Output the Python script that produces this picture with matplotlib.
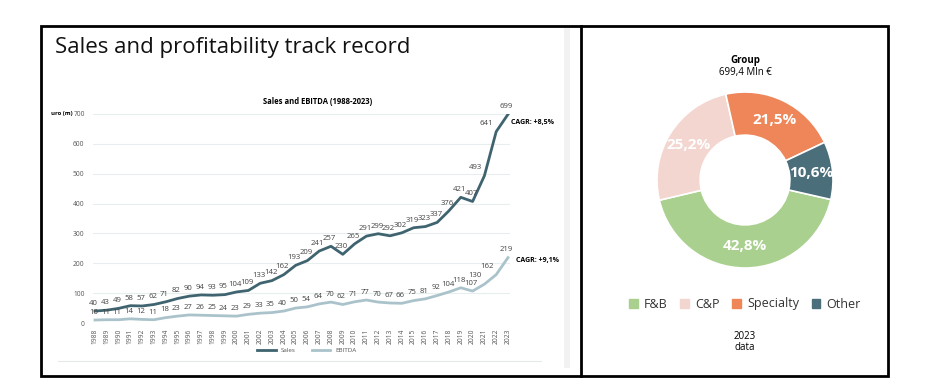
import numpy as np
import matplotlib
matplotlib.use('Agg')
import matplotlib.pyplot as plt
from matplotlib.lines import Line2D
from matplotlib.patches import Rectangle, Patch

years = list(range(1988, 2024))
sales = [40, 43, 49, 58, 57, 62, 71, 82, 90, 94, 93, 95, 104, 109, 133, 142, 162, 193,
         209, 241, 257, 230, 265, 291, 299, 292, 302, 319, 323, 337, 376, 421, 407, 493,
         641, 699]
ebitda = [10, 11, 11, 14, 12, 11, 18, 23, 27, 26, 25, 24, 23, 29, 33, 35, 40, 50,
          54, 64, 70, 62, 71, 77, 70, 67, 66, 75, 81, 92, 104, 118, 107, 130, 162, 219]

segments = ['F&B', 'C&P', 'Specialty', 'Other']
shares = [42.8, 25.2, 21.5, 10.6]
share_labels = ['42,8%', '25,2%', '21,5%', '10,6%']
seg_colors = ['#A9D08E', '#F3D6CF', '#EE8659', '#4B6E7B']

sales_color = '#3F6470'
ebitda_color = '#AAC3CB'
W, H = 926, 392

plt.rcParams['font.family'] = ['Open Sans', 'DejaVu Sans']
fig = plt.figure(figsize=(W / 100, H / 100), dpi=100)


def fx(x):
    return x / W


def fy(y):
    return 1 - y / H


# frame and divider
fig.add_artist(Rectangle((fx(564), fy(368)), fx(6), fy(27) - fy(368),
                         transform=fig.transFigure, color='#F2F2F2', lw=0))
fig.add_artist(Rectangle((fx(41), fy(376)), fx(888 - 41), fy(26) - fy(376),
                         transform=fig.transFigure, fill=False, ec='black', lw=2))
fig.add_artist(Line2D([fx(581), fx(581)], [fy(26), fy(376)],
                      transform=fig.transFigure, color='black', lw=2))
fig.add_artist(Line2D([fx(58), fx(541)], [fy(361), fy(361)],
                      transform=fig.transFigure, color='#E6E9EA', lw=0.8))

fig.text(fx(55), fy(47), 'Sales and profitability track record', fontsize=16,
         va='center', ha='left', color='#111111')

# line chart
ax = fig.add_axes([fx(93), fy(323), fx(510 - 93), fy(114) - fy(323)])
ax.plot(years, sales, color=sales_color, lw=2, label='Sales', zorder=3)
ax.plot(years, ebitda, color=ebitda_color, lw=2, label='EBITDA', zorder=3)
ax.set_xlim(1987.83, 2023.17)
ax.set_ylim(0, 700)
ax.set_yticks(range(0, 701, 100))
ax.set_xticks(years)
ax.set_xticklabels([str(y) for y in years], rotation=90, fontsize=4.8, color='#555555')
ax.tick_params(axis='y', labelsize=4.8, colors='#555555', length=0, pad=6)
ax.tick_params(axis='x', length=0, pad=4)
ax.grid(axis='y', color='#E8EEF0', lw=0.8)
ax.set_axisbelow(True)
for s in ax.spines.values():
    s.set_visible(False)

for series in (sales, ebitda):
    for x, v in zip(years, series):
        # steep last years: put the label up-left of the point
        if 2021 <= x < 2023:
            ax.annotate(str(v), (x, v), xytext=(-2, 3.5), textcoords='offset points',
                        ha='right', va='bottom', fontsize=5.6, color='#444444')
        else:
            ax.annotate(str(v), (x, v), xytext=(-1, 3), textcoords='offset points',
                        ha='center', va='bottom', fontsize=5.6, color='#444444')

ax.text(2023.25, 670, 'CAGR: +8,5%', fontsize=5, fontweight='bold', ha='left', va='center')
ax.text(2023.65, 211, 'CAGR: +9,1%', fontsize=5, fontweight='bold', ha='left', va='center')
fig.text(fx(318), fy(101), 'Sales and EBITDA (1988-2023)', fontsize=5.5,
         fontweight='bold', ha='center', va='center')
fig.text(fx(51), fy(114), 'uro (m)', fontsize=4.3, fontweight='bold', va='center')

fig.legend(*ax.get_legend_handles_labels(), loc='center',
           bbox_to_anchor=(fx(307), fy(350)), ncol=2, frameon=False,
           fontsize=4.5, handlelength=3, columnspacing=2.5, labelcolor='#555555')

# donut
r_out = 88
ax2 = fig.add_axes([fx(745 - r_out), fy(180 + r_out), fx(2 * r_out), fy(180 - r_out) - fy(180 + r_out)])
wedges, _ = ax2.pie(shares, colors=seg_colors, startangle=-12.8, counterclock=False,
                    radius=1, wedgeprops=dict(width=0.49, edgecolor='white', linewidth=1.2))
for w, lab in zip(wedges, share_labels):
    ang = np.deg2rad((w.theta1 + w.theta2) / 2)
    r = 1 - 0.49 / 2
    ax2.text(r * np.cos(ang), r * np.sin(ang), lab, ha='center', va='center',
             color='white', fontsize=11, fontweight='bold')
ax2.set_xlim(-1, 1)
ax2.set_ylim(-1, 1)
ax2.set_aspect('equal')

fig.text(fx(745), fy(60), 'Group', fontsize=7, fontweight='bold', ha='center', va='center')
fig.text(fx(745), fy(73), '699,4 Mln €', fontsize=7, ha='center', va='center')
handles = [Patch(color=c, label=s) for s, c in zip(segments, seg_colors)]
fig.legend(handles=handles, loc='center', bbox_to_anchor=(fx(745), fy(304)), ncol=4,
           frameon=False, fontsize=9, handlelength=0.7, handleheight=0.7,
           handletextpad=0.5, columnspacing=1.0, labelcolor='#333333')
fig.text(fx(745), fy(342), '2023\ndata', fontsize=7, ha='center', va='center',
         linespacing=1.0)

fig.savefig('out.png', dpi=100)
